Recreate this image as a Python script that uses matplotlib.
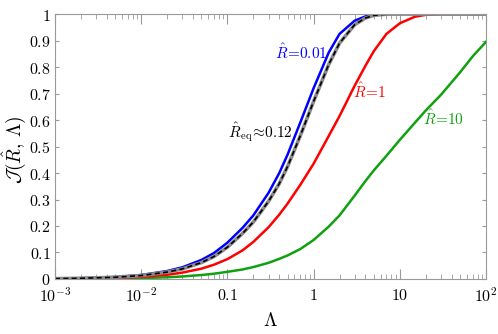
import numpy as np
import matplotlib
matplotlib.use("Agg")
import matplotlib.pyplot as plt
from matplotlib.ticker import FixedLocator, LogLocator, FuncFormatter

plt.rcParams['mathtext.fontset'] = 'cm'
plt.rcParams['font.family'] = 'serif'
plt.rcParams['font.serif'] = ['DejaVu Serif']

lam = [0.001, 0.002, 0.005, 0.01, 0.02, 0.03, 0.05, 0.07, 0.1, 0.15, 0.2, 0.3,
       0.4, 0.5, 0.7, 1, 1.5, 2, 3, 4, 5, 7, 10, 15, 20, 30, 50, 70, 100]

j_r001 = [0.0015, 0.003, 0.0075, 0.015, 0.03, 0.044, 0.072, 0.098, 0.137, 0.193,
          0.24, 0.325, 0.40, 0.47, 0.59, 0.72, 0.855, 0.925, 0.975, 0.991,
          0.997, 1.0, 1.0, 1.0, 1.0, 1.0, 1.0, 1.0, 1.0]
j_req = [0.0013, 0.0026, 0.0065, 0.013, 0.026, 0.038, 0.062, 0.085, 0.12, 0.172,
         0.215, 0.293, 0.36, 0.425, 0.54, 0.67, 0.81, 0.89, 0.96, 0.985,
         0.995, 0.9995, 1.0, 1.0, 1.0, 1.0, 1.0, 1.0, 1.0]
j_r1 = [0.0008, 0.0016, 0.004, 0.008, 0.016, 0.024, 0.039, 0.054, 0.075, 0.108,
        0.14, 0.195, 0.243, 0.285, 0.355, 0.435, 0.54, 0.615, 0.73, 0.805,
        0.86, 0.925, 0.965, 0.99, 0.997, 1.0, 1.0, 1.0, 1.0]
j_r10 = [0.0003, 0.0006, 0.0015, 0.003, 0.0065, 0.0095, 0.015, 0.02, 0.027, 0.036,
         0.045, 0.061, 0.076, 0.089, 0.113, 0.147, 0.198, 0.24, 0.315, 0.37,
         0.41, 0.465, 0.525, 0.59, 0.636, 0.695, 0.78, 0.84, 0.895]

xticks = [1e-3, 1e-2, 0.1, 1, 10, 100]
xlabels = [r'$10^{-3}$', r'$10^{-2}$', r'$0.1$', r'$1$', r'$10$', r'$10^{2}$']
yticks = [0, 0.1, 0.2, 0.3, 0.4, 0.5, 0.6, 0.7, 0.8, 0.9, 1]

fig = plt.figure(figsize=(4.98, 3.34), dpi=100)
ax = fig.add_axes([0.1104, 0.1647, 0.8655, 0.7933])

blue = '#0000ff'
red = '#ff0000'
green = '#10a010'

ax.plot(lam, j_r10, color=green, lw=1.8)
ax.plot(lam, j_r1, color=red, lw=1.8)
ax.plot(lam, j_r001, color=blue, lw=1.8)
ax.plot(lam, j_req, color='#8a8a8a', lw=2.6)
ax.plot(lam, j_req, color='black', lw=1.2, dashes=(3, 2))

ax.set_xscale('log')
ax.set_xlim(1e-3, 100)
ax.set_ylim(0, 1)

ax.xaxis.set_major_locator(FixedLocator(xticks))
ax.set_xticklabels(xlabels)
ax.xaxis.set_minor_locator(LogLocator(base=10, subs=np.arange(2, 10)))
ax.xaxis.set_minor_formatter(FuncFormatter(lambda v, p: ''))
ax.set_yticks(yticks)
ax.set_yticklabels([r'$%g$' % t for t in yticks])

for s in ax.spines.values():
    s.set_color('#999999')
    s.set_linewidth(0.8)
ax.tick_params(which='both', direction='in', top=True, right=True,
               color='#999999', labelsize=11.5)
ax.tick_params(axis='x', which='major', length=7, pad=6)
ax.tick_params(axis='x', which='minor', length=3.5)
ax.tick_params(axis='y', which='major', length=3, pad=3)

ax.set_xlabel(r'$\Lambda$', fontsize=14)
ax.xaxis.set_label_coords(0.5, -0.125)
fig.text(14 / 498, 1 - 150 / 334, r'$\mathcal{J}(\hat{R},\,\Lambda)$', fontsize=14,
         rotation=90, ha='center', va='center')

ax.text(0.71, 0.855, r'$\hat{R}\!=\!0.01$', color=blue, fontsize=11, ha='center', va='center')
ax.text(4.5, 0.707, r'$\hat{R}\!=\!1$', color=red, fontsize=11, ha='center', va='center')
ax.text(32, 0.606, r'$\hat{R}\!=\!10$', color=green, fontsize=11, ha='center', va='center')
ax.text(0.239, 0.553, r'$\hat{R}_{\rm eq}\!\approx\!0.12$', color='black', fontsize=11,
        ha='center', va='center')

fig.savefig('out.png', dpi=100)
